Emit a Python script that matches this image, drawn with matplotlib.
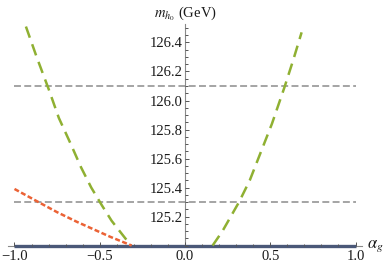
import matplotlib
matplotlib.use("Agg")
import matplotlib.pyplot as plt
from matplotlib.ticker import FixedLocator

plt.rcParams['font.family'] = 'Liberation Serif'
plt.rcParams['mathtext.fontset'] = 'stix'
plt.rcParams['lines.scale_dashes'] = False

# values
green_left_x = [-0.933, -0.87, -0.80, -0.74, -0.67, -0.61, -0.55, -0.489, -0.43, -0.377, -0.317]
green_left_m = [126.51, 126.30, 126.08, 125.88, 125.70, 125.54, 125.40, 125.28, 125.17, 125.09, 125.00]
green_right_x = [0.162, 0.22, 0.317, 0.38, 0.44, 0.51, 0.583, 0.635, 0.684]
green_right_m = [125.00, 125.10, 125.30, 125.45, 125.63, 125.84, 126.09, 126.28, 126.47]
red_x = [-1.0, -0.86, -0.75, -0.635, -0.44, -0.313]
red_m = [125.39, 125.30, 125.23, 125.164, 125.061, 125.00]
floor_x = [-1.0, 1.0]
floor_m = [125.0, 125.0]
bands = [125.3, 126.1]

xticks = [-1.0, -0.5, 0.0, 0.5, 1.0]
xticklabels = ['\u22121.0', '\u22120.5', '0.0', '0.5', '1.0']
yticks = [125.2, 125.4, 125.6, 125.8, 126.0, 126.2, 126.4]

fig = plt.figure(figsize=(3.88, 2.67), dpi=100)
ax = fig.add_axes([0, 0, 1, 1])
ax.set_xlim(-1.085, 1.1906)
ax.set_ylim(124.852, 126.693)

axis_col = '#8a8a8a'
for s in ['top', 'right']:
    ax.spines[s].set_visible(False)
ax.spines['left'].set_position(('data', 0))
ax.spines['bottom'].set_position(('data', 125))
ax.spines['left'].set_bounds(125, 126.53)
ax.spines['bottom'].set_bounds(-1.04, 1.04)
for s in ['left', 'bottom']:
    ax.spines[s].set_color(axis_col)
    ax.spines[s].set_linewidth(0.8)

# thick band along the axis, over the spine but under the ticks
ax.plot(floor_x, floor_m, color='#4a5878', lw=2.4, solid_capstyle='butt', zorder=3)

for b in bands:
    ax.plot([-1, 1], [b, b], color='#8c8c8c', lw=1.1, dashes=(5, 2.4), zorder=2)

ax.plot(green_left_x, green_left_m, color='#8fb032', lw=1.8, dashes=(8.5, 5), zorder=3.5)
ax.plot(green_right_x, green_right_m, color='#8fb032', lw=1.8, dashes=(8.5, 5), zorder=3.5)
ax.plot(red_x, red_m, color='#eb6235', lw=1.8, dashes=(3.6, 1.8), zorder=4)

ax.xaxis.set_major_locator(FixedLocator(xticks))
ax.set_xticklabels(xticklabels)
ax.xaxis.set_minor_locator(FixedLocator([i / 10 for i in range(-10, 11)]))
ax.yaxis.set_major_locator(FixedLocator(yticks))
ax.yaxis.set_minor_locator(FixedLocator([125 + i * 0.05 for i in range(0, 31)]))

ax.tick_params(which='both', direction='in', color='#555555', width=0.7, labelsize=10.5,
               labelcolor='#1a1a1a')
ax.tick_params(which='major', length=3.2)
ax.tick_params(which='minor', length=1.8)
ax.tick_params(axis='x', pad=3)
ax.tick_params(axis='y', pad=1.5)
ax.xaxis.set_zorder(5)
ax.yaxis.set_zorder(5)

ax.text(0, 126.575, r'$m_{h_0}$ (GeV)', ha='center', va='baseline', fontsize=10.5, color='#1a1a1a')
ax.text(1.065, 125.0, r'$\alpha_g$', ha='left', va='center', fontsize=12, color='#1a1a1a')

fig.savefig('out.png', dpi=100)
